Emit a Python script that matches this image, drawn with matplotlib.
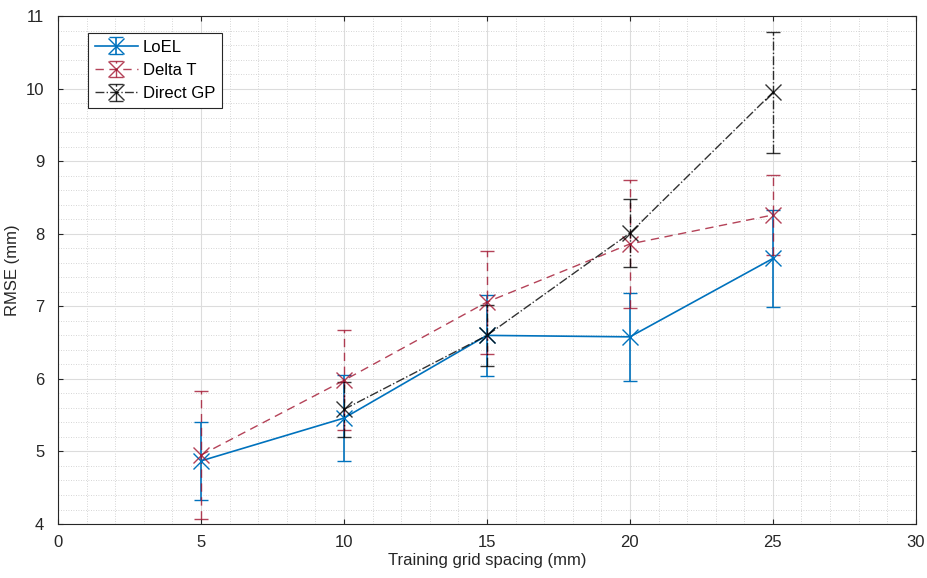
import matplotlib
matplotlib.use("Agg")
import matplotlib.pyplot as plt
from matplotlib.ticker import MultipleLocator

plt.rcParams['font.family'] = ['Liberation Sans', 'DejaVu Sans']

spacing = [5, 10, 15, 20, 25]

loel = [4.87, 5.46, 6.60, 6.58, 7.66]
loel_err = [0.54, 0.59, 0.56, 0.61, 0.67]

delta_t = [4.95, 5.98, 7.06, 7.86, 8.26]
delta_t_err = [0.88, 0.69, 0.71, 0.88, 0.55]

gp_spacing = [10, 15, 20, 25]
direct_gp = [5.58, 6.60, 8.01, 9.95]
direct_gp_err = [0.38, 0.42, 0.47, 0.83]

fig = plt.figure(figsize=(9.27, 5.78), dpi=100)
ax = fig.add_axes([0.0626, 0.0934, 0.9254, 0.8786])

eb1 = ax.errorbar(spacing, loel, yerr=loel_err, fmt='-x', color='#0072BD', lw=1.2,
                  ms=11, mew=1.0, capsize=5, elinewidth=1.2, label='LoEL')
eb2 = ax.errorbar(spacing, delta_t, yerr=delta_t_err, fmt='--x', color='#A2142F', lw=1.0,
                  ms=11, mew=1.0, capsize=5, elinewidth=1.0, label='Delta T', alpha=0.8,
                  dashes=(6, 4))
eb3 = ax.errorbar(gp_spacing, direct_gp, yerr=direct_gp_err, fmt='-.x', color='black', lw=1.0,
                  ms=11, mew=1.0, capsize=5, elinewidth=1.0, label='Direct GP', alpha=0.8)
eb2[2][0].set_linestyle((0, (6, 4)))
eb3[2][0].set_linestyle('-.')

ax.set_xlim(0, 30)
ax.set_ylim(4, 11)
ax.xaxis.set_major_locator(MultipleLocator(5))
ax.xaxis.set_minor_locator(MultipleLocator(1))
ax.yaxis.set_major_locator(MultipleLocator(1))
ax.yaxis.set_minor_locator(MultipleLocator(0.2))
ax.grid(True, which='major', color='#dcdcdc', lw=0.8)
ax.grid(True, which='minor', color='#c8c8c8', lw=0.6, ls=(0, (1, 2)))
ax.set_axisbelow(True)
ax.tick_params(which='both', direction='in', top=True, right=True, labelsize=12, colors='#262626')
ax.tick_params(axis='x', pad=8)
ax.tick_params(axis='y', pad=10)
ax.tick_params(which='minor', length=0)
for s in ax.spines.values():
    s.set_color('#262626')
    s.set_linewidth(0.8)

ax.set_xlabel('Training grid spacing (mm)', fontsize=12, color='#262626', labelpad=2)
ax.set_ylabel('RMSE (mm)', fontsize=12, color='#262626')

leg = ax.legend(loc='upper left', bbox_to_anchor=(0.035, 0.967), borderaxespad=0,
                fontsize=12, fancybox=False, framealpha=1, edgecolor='#262626',
                handlelength=2.6, labelspacing=0.5, handletextpad=0.3)
leg.get_frame().set_linewidth(0.8)

fig.savefig('out.png', dpi=100)
